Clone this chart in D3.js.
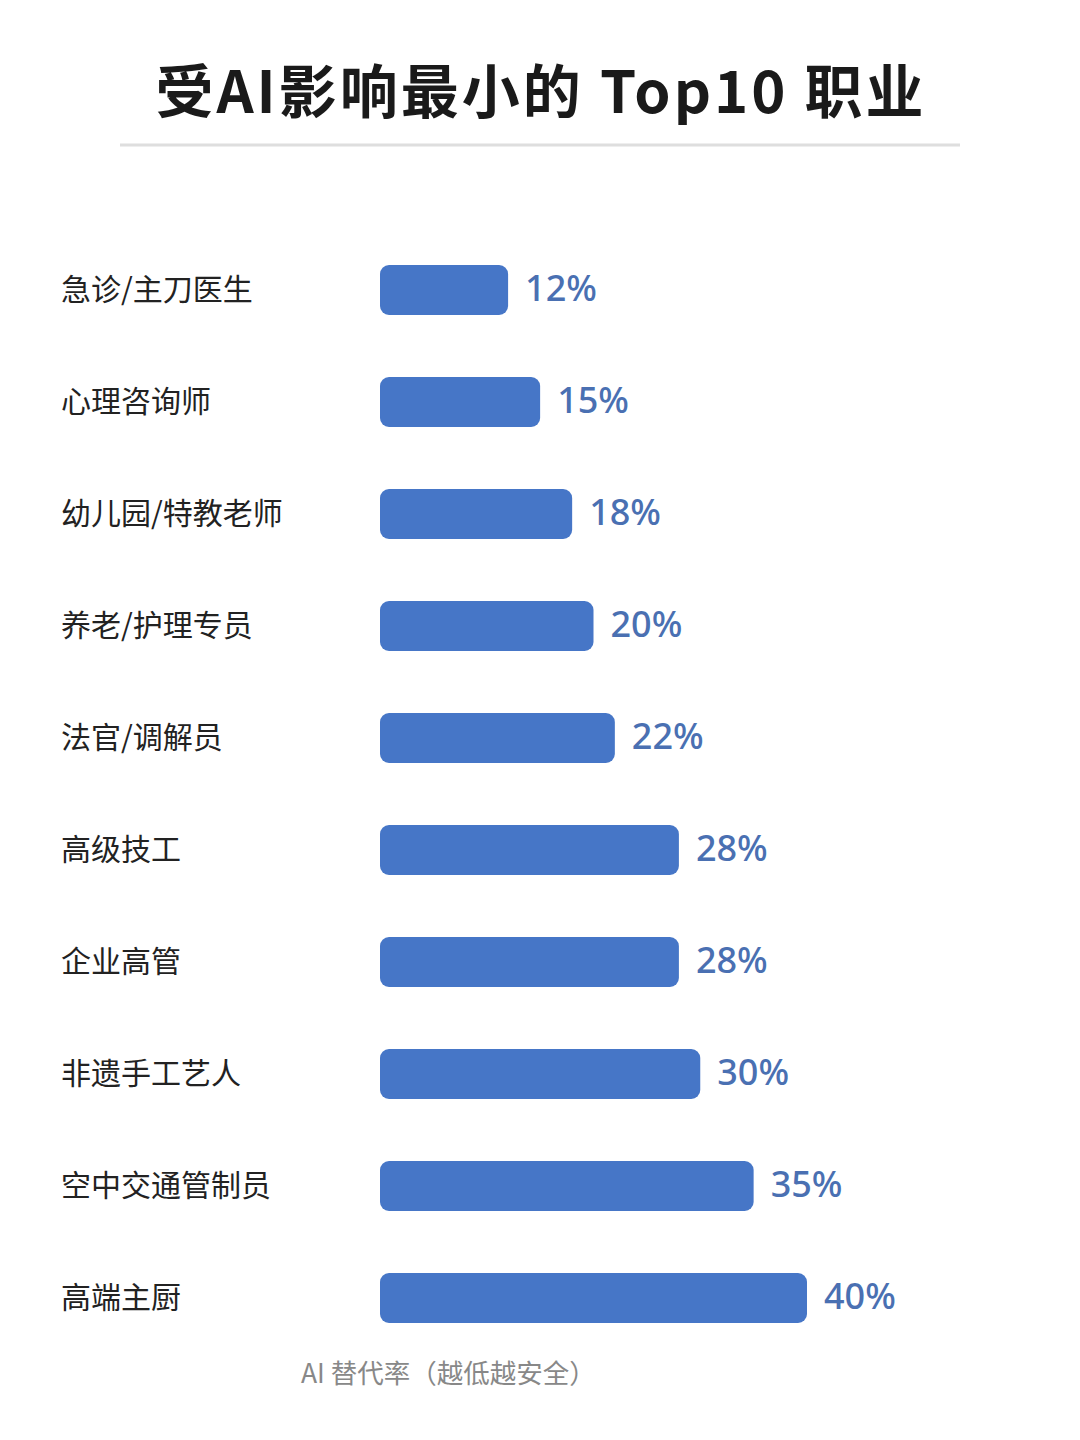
<!DOCTYPE html>
<html><head><meta charset="utf-8">
<script src="https://cdn.jsdelivr.net/npm/d3@7"></script>
<style>html,body{margin:0;padding:0;background:#fff;}svg{display:block;}</style>
</head><body>
<script>
const titleText = "受AI影响最小的 Top10 职业";
const footerText = "AI 替代率（越低越安全）";
const occupations = ["急诊/主刀医生","心理咨询师","幼儿园/特教老师","养老/护理专员","法官/调解员","高级技工","企业高管","非遗手工艺人","空中交通管制员","高端主厨"];
const rates = [12,15,18,20,22,28,28,30,35,40];

const W = 1080, H = 1440;
const svg = d3.select("body").append("svg").attr("width", W).attr("height", H);
svg.append("rect").attr("width", W).attr("height", H).attr("fill", "#fff");

const cjk = "'Noto Sans CJK SC','Noto Sans',sans-serif";

svg.append("text").attr("x", 541).attr("y", 113).attr("text-anchor", "middle")
  .attr("font-family", cjk).attr("font-weight", 700).attr("font-size", 58)
  .attr("letter-spacing", 3)
  .attr("fill", "#1a1a1a").text(titleText);
svg.append("line").attr("x1", 120).attr("x2", 960).attr("y1", 145).attr("y2", 145)
  .attr("stroke", "#dedede").attr("stroke-width", 3);

const x = d3.scaleLinear().domain([0, 40]).range([380, 807]);
const y = d3.scaleBand().domain(occupations).range([234, 1354]).paddingInner(0.554).paddingOuter(0.277);

const rows = svg.append("g").selectAll("g").data(occupations).join("g");
rows.append("rect")
  .attr("x", x(0)).attr("y", d => y(d))
  .attr("width", (d, i) => x(rates[i]) - x(0)).attr("height", y.bandwidth())
  .attr("rx", 9).attr("fill", "#4676c7");
rows.append("text")
  .attr("x", 61).attr("y", d => y(d) + y.bandwidth() / 2 - 3)
  .attr("dominant-baseline", "central")
  .attr("font-family", cjk).attr("font-weight", 400).attr("font-size", 30)
  .attr("fill", "#222").text(d => d);
rows.append("text")
  .attr("x", (d, i) => x(rates[i]) + 17).attr("y", d => y(d) + y.bandwidth() / 2 - 3)
  .attr("dominant-baseline", "central")
  .attr("font-family", "'Noto Sans','Open Sans',sans-serif").attr("font-weight", 500).attr("font-size", 36)
  .attr("fill", "#4a70b2").text((d, i) => rates[i] + "%");

svg.append("text").attr("x", 301).attr("y", 1383)
  .attr("font-family", cjk).attr("font-size", 26.5).attr("fill", "#888").text(footerText);

const defs = svg.append("defs");
defs.append("filter").attr("id", "blur").append("feGaussianBlur").attr("stdDeviation", 3);
svg.append("line").attr("x1", 388).attr("x2", 692).attr("y1", 1418).attr("y2", 1418)
  .attr("stroke", "#e6e6e6").attr("stroke-width", 5).attr("filter", "url(#blur)");
</script>
</body></html>
